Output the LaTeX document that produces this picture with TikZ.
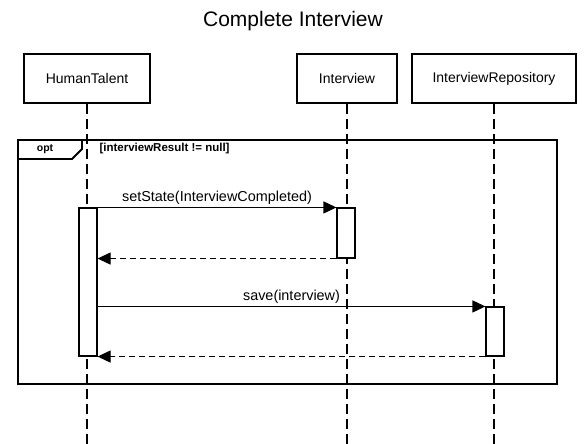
\documentclass[tikz,border=0pt]{standalone}
\usepackage{fontspec}
\setmainfont{Liberation Sans}
\usetikzlibrary{arrows.meta}

\begin{document}
\begin{tikzpicture}[x=1pt, y=-1pt]
    \tikzstyle{actor}=[draw, line width=1.9pt, minimum height=49pt, font=\fontsize{14}{16}\selectfont]
    \tikzstyle{lifeline}=[line width=1.1pt, dash pattern=on 10pt off 5pt]
    \tikzstyle{activation}=[draw, fill=white, line width=1.1pt, minimum width=18pt, inner sep=0pt]
    \tikzstyle{call}=[line width=1.1pt, -{Triangle[length=13pt, width=12pt]}]
    \tikzstyle{reply}=[call, dash pattern=on 6pt off 4pt]
    \tikzstyle{msg}=[above, inner sep=2pt, font=\fontsize{14.4}{16}\selectfont]

    \useasboundingbox (0,0) rectangle (587,444);

% The following code draws the participants, their lifelines and the opt fragment.

    \node (title) at (293,21) {\fontsize{21}{24}\selectfont Complete Interview};
    \node[actor, minimum width=126pt] (human) at (87,78.5) {HumanTalent};
    \node[actor, minimum width=100pt] (interview) at (347,78.5) {Interview};
    \node[actor, minimum width=164pt] (repo) at (494,78.5) {InterviewRepository};

    \coordinate (humanEnd) at (87,444);
    \coordinate (interviewEnd) at (347,444);
    \coordinate (repoEnd) at (494,444);
    \draw[lifeline] (human.south) -- (humanEnd);
    \draw[lifeline] (interview.south) -- (interviewEnd);
    \draw[lifeline] (repo.south) -- (repoEnd);

    \node[draw, line width=1.9pt, anchor=north west, minimum width=539pt, minimum height=244pt] (frame) at (17,139) {};
    \draw[line width=1.9pt] (frame.north west) ++(0,20) -- ++(55,0) -- ++(10,-10) -- ++(0,-10);
    \node[font=\bfseries\fontsize{10.5}{12}\selectfont] (opt) at (45,149) {opt};
    \node[anchor=west, font=\bfseries\fontsize{11.5}{13}\selectfont] (guard) at (96,149) {[interviewResult != null]};

% Activations and messages.

    \node[activation, minimum height=148pt] (humanAct) at (88,282) {};
    \node[activation, minimum height=50pt] (interviewAct) at (346,233) {};
    \node[activation, minimum height=49pt] (repoAct) at (495,331.5) {};

    \draw[call] (humanAct.north east) -- (interviewAct.north west) node[msg, midway] {setState(InterviewCompleted)};
    \draw[reply] (interviewAct.south west) -- (interviewAct.south west -| humanAct.east);
    \draw[call] (humanAct.east |- repoAct.north) -- (repoAct.north west) node[msg, midway] {save(interview)};
    \draw[reply] (repoAct.south west) -- (humanAct.south east);

\end{tikzpicture}
\end{document}
